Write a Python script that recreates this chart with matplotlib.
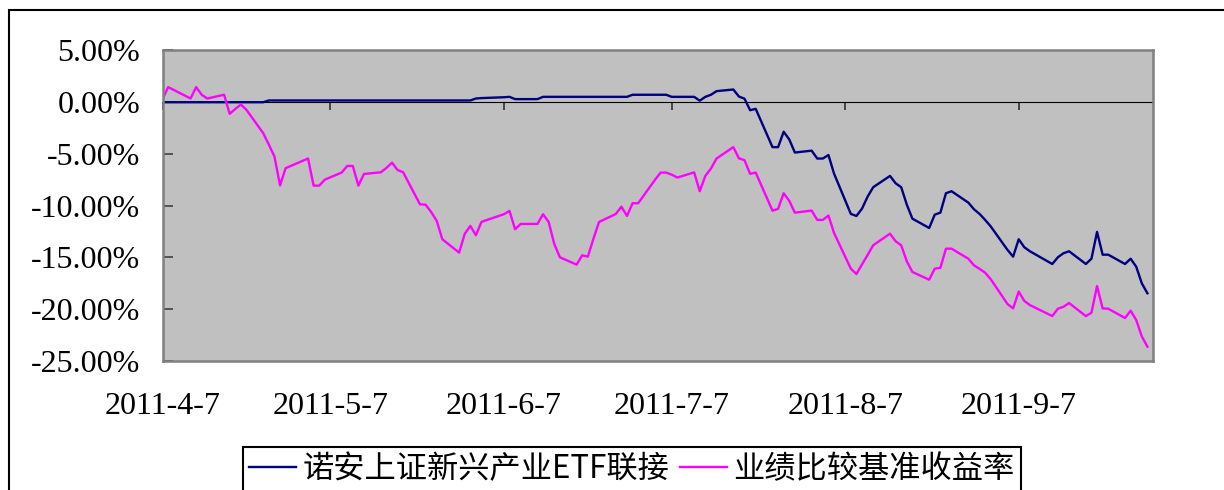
import pandas as pd
import matplotlib
matplotlib.use('Agg')
from matplotlib import pyplot as plt
import matplotlib.dates as mdates
from matplotlib.patches import Rectangle
from matplotlib.ticker import FuncFormatter, MultipleLocator

# trading days shown in the chart
dates = [
    '2011-04-07', '2011-04-08', '2011-04-11', '2011-04-12', '2011-04-13', '2011-04-14', '2011-04-15',
    '2011-04-18', '2011-04-19', '2011-04-20', '2011-04-21', '2011-04-22',
    '2011-04-25', '2011-04-26', '2011-04-27', '2011-04-28', '2011-04-29',
    '2011-05-03', '2011-05-04', '2011-05-05', '2011-05-06',
    '2011-05-09', '2011-05-10', '2011-05-11', '2011-05-12', '2011-05-13',
    '2011-05-16', '2011-05-17', '2011-05-18', '2011-05-19', '2011-05-20',
    '2011-05-23', '2011-05-24', '2011-05-25', '2011-05-26', '2011-05-27',
    '2011-05-30', '2011-05-31', '2011-06-01', '2011-06-02', '2011-06-03',
    '2011-06-07', '2011-06-08', '2011-06-09', '2011-06-10',
    '2011-06-13', '2011-06-14', '2011-06-15', '2011-06-16', '2011-06-17',
    '2011-06-20', '2011-06-21', '2011-06-22', '2011-06-23', '2011-06-24',
    '2011-06-27', '2011-06-28', '2011-06-29', '2011-06-30', '2011-07-01',
    '2011-07-04', '2011-07-05', '2011-07-06', '2011-07-07', '2011-07-08',
    '2011-07-11', '2011-07-12', '2011-07-13', '2011-07-14', '2011-07-15',
    '2011-07-18', '2011-07-19', '2011-07-20', '2011-07-21', '2011-07-22',
    '2011-07-25', '2011-07-26', '2011-07-27', '2011-07-28', '2011-07-29',
    '2011-08-01', '2011-08-02', '2011-08-03', '2011-08-04', '2011-08-05',
    '2011-08-08', '2011-08-09', '2011-08-10', '2011-08-11', '2011-08-12',
    '2011-08-15', '2011-08-16', '2011-08-17', '2011-08-18', '2011-08-19',
    '2011-08-22', '2011-08-23', '2011-08-24', '2011-08-25', '2011-08-26',
    '2011-08-29', '2011-08-30', '2011-08-31', '2011-09-01', '2011-09-02',
    '2011-09-05', '2011-09-06', '2011-09-07', '2011-09-08', '2011-09-09',
    '2011-09-13', '2011-09-14', '2011-09-15', '2011-09-16',
    '2011-09-19', '2011-09-20', '2011-09-21', '2011-09-22', '2011-09-23',
    '2011-09-26', '2011-09-27', '2011-09-28', '2011-09-29', '2011-09-30',
]

# 诺安上证新兴产业ETF联接 (%)
fund = [
    0.00, 0.00, 0.00, 0.00, 0.00, 0.00, 0.00,
    0.00, 0.00, 0.00, 0.00, 0.00,
    0.00, 0.17, 0.17, 0.17, 0.17,
    0.17, 0.17, 0.17, 0.17,
    0.17, 0.17, 0.17, 0.17, 0.17,
    0.17, 0.17, 0.17, 0.17, 0.17,
    0.17, 0.17, 0.17, 0.17, 0.17,
    0.17, 0.17, 0.17, 0.36, 0.40,
    0.48, 0.52, 0.30, 0.30,
    0.30, 0.52, 0.52, 0.52, 0.52,
    0.52, 0.52, 0.52, 0.52, 0.52,
    0.52, 0.52, 0.52, 0.72, 0.72,
    0.72, 0.72, 0.72, 0.52, 0.52,
    0.52, 0.15, 0.52, 0.72, 1.07,
    1.23, 0.55, 0.34, -0.77, -0.64,
    -4.34, -4.34, -2.85, -3.60, -4.86,
    -4.68, -5.44, -5.44, -5.10, -6.90,
    -10.79, -10.99, -10.28, -9.12, -8.21,
    -7.12, -7.83, -8.21, -9.89, -11.25,
    -12.15, -10.86, -10.67, -8.79, -8.60,
    -9.70, -10.34, -10.79, -11.37, -12.00,
    -14.27, -14.92, -13.24, -14.01, -14.40,
    -15.63, -14.98, -14.59, -14.40,
    -15.63, -15.12, -12.53, -14.73, -14.73,
    -15.63, -15.12, -15.89, -17.50, -18.46,
]

# 业绩比较基准收益率 (%)
bench = [
    0.30, 1.46, 0.64, 0.36, 1.46, 0.72, 0.36,
    0.72, -1.12, -0.65, -0.22, -0.74,
    -3.00, -4.10, -5.25, -8.04, -6.37,
    -5.44, -8.06, -8.06, -7.48,
    -6.80, -6.16, -6.16, -8.06, -6.93,
    -6.77, -6.35, -5.84, -6.55, -6.77,
    -9.86, -9.90, -10.60, -11.47, -13.24,
    -14.53, -12.72, -11.95, -12.85, -11.56,
    -10.82, -10.50, -12.27, -11.76,
    -11.76, -10.82, -11.57, -13.69, -14.98,
    -15.69, -14.79, -14.92, -13.20, -11.57,
    -10.80, -10.09, -10.99, -9.76, -9.76,
    -7.50, -6.80, -6.80, -7.00, -7.28,
    -6.78, -8.60, -7.12, -6.41, -5.44,
    -4.34, -5.42, -5.60, -6.92, -6.80,
    -10.48, -10.30, -8.79, -9.53, -10.67,
    -10.47, -11.37, -11.37, -10.95, -12.63,
    -16.08, -16.60, -15.67, -14.75, -13.82,
    -12.70, -13.43, -13.82, -15.37, -16.40,
    -17.15, -16.08, -16.00, -14.15, -14.15,
    -15.12, -15.75, -16.10, -16.47, -17.10,
    -19.50, -19.92, -18.30, -19.20, -19.60,
    -20.66, -19.95, -19.76, -19.40,
    -20.66, -20.34, -17.76, -19.92, -19.95,
    -20.85, -20.14, -21.04, -22.63, -23.62,
]

labels = ['诺安上证新兴产业ETF联接', '业绩比较基准收益率']

x = pd.to_datetime(dates)
ymin, ymax = -25, 5

fig = plt.figure(figsize=(12.24, 4.9), dpi=100)
ax = fig.add_axes([0.1328, 0.2633, 0.8092, 0.6337])
ax.set_facecolor('#C0C0C0')

ax.plot(x, fund, color='#000080', lw=1.7, label=labels[0])
ax.plot(x, bench, color='#FF00FF', lw=1.7, label=labels[1])

ax.set_ylim(ymin, ymax)
ax.set_xlim(pd.Timestamp('2011-04-07'), pd.Timestamp('2011-10-01'))

for s in ax.spines.values():
    s.set_color('#808080')
    s.set_linewidth(1.8)

serif = {'family': 'Liberation Serif', 'size': 23}

ax.yaxis.set_major_locator(MultipleLocator(5))
ax.yaxis.set_major_formatter(FuncFormatter(lambda v, p: '%.2f%%' % v))
ax.tick_params(axis='y', direction='in', length=7, width=1.2, color='#404040', pad=16)
for t in ax.get_yticklabels():
    t.set_fontproperties(serif)

ax.xaxis.set_major_locator(mdates.MonthLocator(bymonthday=7))
ax.xaxis.set_major_formatter(FuncFormatter(
    lambda v, p: '%d-%d-%d' % (mdates.num2date(v).year, mdates.num2date(v).month, mdates.num2date(v).day)))
ax.tick_params(axis='x', length=0, pad=22)
for t in ax.get_xticklabels():
    t.set_fontproperties(serif)

# horizontal axis line at zero with month tick marks
zero_axis = ax.secondary_xaxis((0 - ymin) / (ymax - ymin))
zero_axis.xaxis.set_major_locator(mdates.MonthLocator(bymonthday=7))
zero_axis.tick_params(direction='in', length=6, width=1.2, color='#303030', labelbottom=False, labeltop=False)
zero_axis.spines['bottom'].set_color('#404040')
zero_axis.spines['bottom'].set_linewidth(1.8)

# outer chart border
fig.add_artist(Rectangle((8.5 / 1224, -0.2), 1.2, 1.2 - 10.5 / 490, transform=fig.transFigure,
                         fill=False, edgecolor='black', lw=1.5))

leg = fig.legend(loc='upper left', bbox_to_anchor=(243 / 1224, 1 - 447 / 490),
                 prop={'family': ['Noto Sans CJK SC', 'DejaVu Sans'], 'size': 22.5},
                 frameon=True, fancybox=False, framealpha=1, edgecolor='black',
                 ncol=2, handlelength=1.5, handletextpad=0.2, columnspacing=0.35,
                 borderpad=0.2, borderaxespad=0)
leg.get_frame().set_linewidth(1.5)

plt.savefig('out.png', dpi=100)
